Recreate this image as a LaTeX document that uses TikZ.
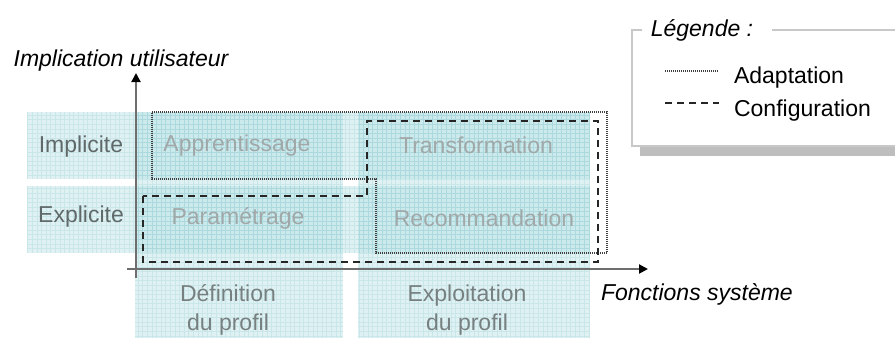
\documentclass[tikz,border=0pt]{standalone}
\usepackage{fontspec}
\setmainfont{Liberation Sans}
\usepackage{xcolor}
\usepackage{tikz}
\usetikzlibrary{arrows.meta}

\definecolor{bandteal}{RGB}{166,216,222}
\definecolor{gridteal}{RGB}{110,185,195}
\definecolor{celltxt}{RGB}{160,168,168}
\definecolor{rowtxt}{RGB}{95,105,105}
\definecolor{axisgray}{RGB}{110,110,110}
\definecolor{framegray}{RGB}{200,200,200}
\definecolor{shadowgray}{RGB}{190,190,190}

\begin{document}
\begin{tikzpicture}[x=0.5pt, y=0.5pt, font=\fontsize{11.5}{14.5}\selectfont]
  \tikzset{
    band/.style={fill=bandteal, fill opacity=0.35},
    bandgrid/.style={draw=gridteal, draw opacity=0.2, line width=0.2pt, step=2.3pt},
    celllabel/.style={text=celltxt},
    rowlabel/.style={text=rowtxt},
    collabel/.style={text=rowtxt!85!white, align=center},
    axislabel/.style={font=\fontsize{11.5}{14.5}\selectfont\itshape},
    axisline/.style={draw=axisgray, line width=1pt, -{Triangle[color=black, length=4.5pt, width=4.5pt]}},
    adapt/.style={draw=black!75, line width=0.7pt, dash pattern=on 0.5pt off 0.5pt},
    config/.style={draw=black!85, line width=0.75pt, dash pattern=on 3.5pt off 2.5pt},
    frame/.style={draw=framegray, line width=0.6pt}
  }

  \path[use as bounding box] (0,0) rectangle (895,-338);
  \clip (0,0) rectangle (895,-338);

  % rows and columns of the grid
  \foreach \xa/\ya/\xb/\yb in {27/112/590/179, 27/186/590/253, 135/112/343/338, 358/112/590/338} {
    \fill[band] (\xa,-\yb) rectangle (\xb,-\ya);
    \draw[bandgrid] (\xa,-\yb) grid (\xb,-\ya);
  }

  % labels
  \node[rowlabel] (implicite) at (81,-147) {Implicite};
  \node[rowlabel] (explicite) at (81,-217) {Explicite};
  \node[collabel] (definition) at (228,-310) {Définition\\du profil};
  \node[collabel] (exploitation) at (467,-310) {Exploitation\\du profil};

  \node[celllabel] (apprent) at (237,-146) {Apprentissage};
  \node[celllabel] (transfo) at (476,-145) {Transformation};
  \node[celllabel] (parametr) at (238,-218) {Paramétrage};
  \node[celllabel] (recomm) at (484,-218) {Recommandation};

  % axes
  \coordinate (yfoot) at (136,-278);
  \coordinate (ytip) at (136,-73);
  \coordinate (xfoot) at (127,-269);
  \coordinate (xtip) at (648,-269);
  \draw[axisline] (yfoot) -- (ytip);
  \draw[axisline] (xfoot) -- (xtip);
  \node[axislabel] (ylab) at (121,-61) {Implication utilisateur};
  \node[axislabel, anchor=west] (xlab) at (594,-294) {Fonctions système};

  % adaptation and configuration
  \draw[adapt] (152,-112) -- (607,-112) -- (607,-253) -- (376,-253) -- (376,-179) -- (152,-179) -- cycle;
  \draw[config] (143,-196) -- (143,-262) -- (598,-262) -- (598,-121) -- (367,-121) -- (367,-196) -- cycle;

  % legend
  \fill[shadowgray] (640,-146) rectangle (900,-156);
  \fill[white] (632,-30) rectangle (900,-146);
  \draw[frame] (642,-30) -- (632,-30) -- (632,-146) -- (900,-146);
  \draw[frame] (772,-30) -- (900,-30);
  \node[axislabel] (legtitle) at (702,-30) {Légende :};

  \coordinate (adaptA) at (665,-71);
  \coordinate (adaptB) at (719,-71);
  \draw[adapt] (adaptA) -- (adaptB);
  \node[anchor=west] (adaptlab) at (727,-78) {Adaptation};

  \coordinate (configA) at (665,-103);
  \coordinate (configB) at (719,-103);
  \draw[config] (configA) -- (configB);
  \node[anchor=west] (configlab) at (727,-111) {Configuration};
\end{tikzpicture}
\end{document}
